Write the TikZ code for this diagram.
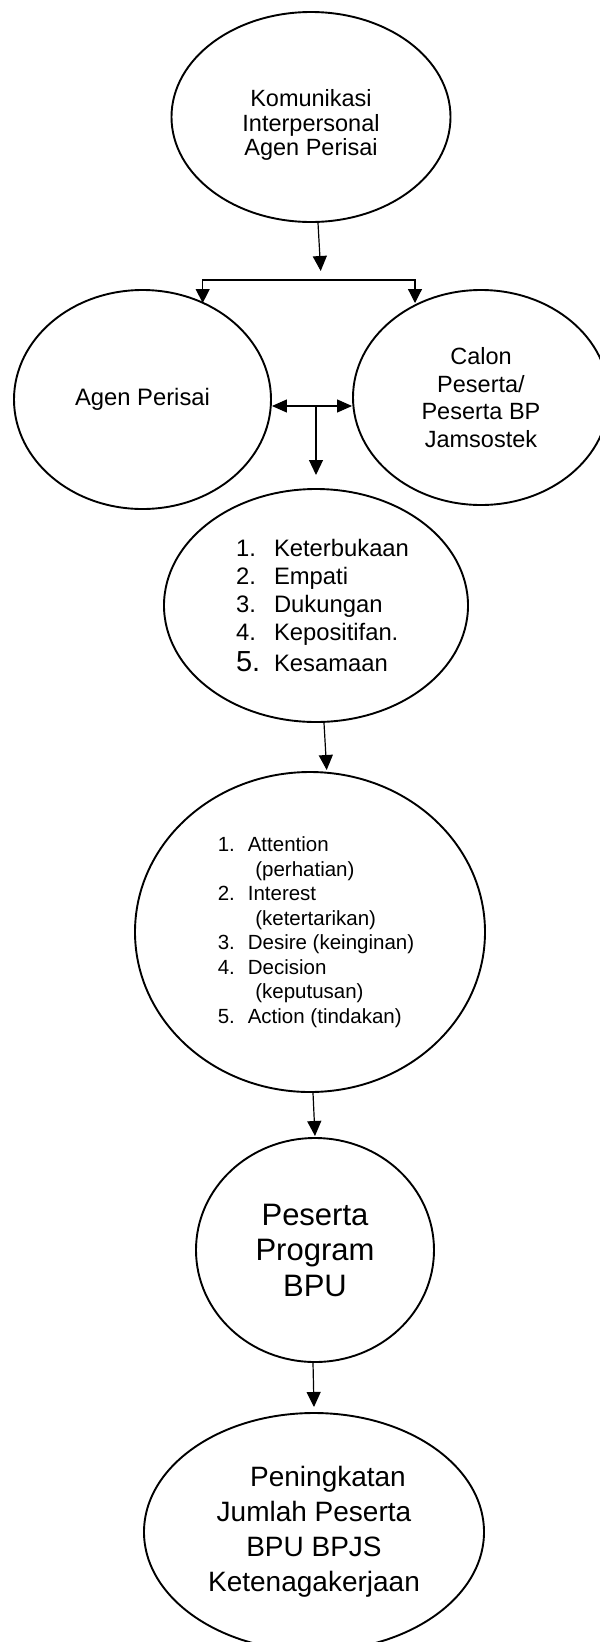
\documentclass[tikz,border=0pt]{standalone}
\usepackage{fontspec}
\setmainfont{Liberation Sans}
\usetikzlibrary{shapes.geometric,arrows.meta,calc}
\newcommand\myitemA[1]{\hspace*{13pt}\makebox[38pt][l]{#1}}
\newcommand\myitemB[1]{\hspace*{12pt}\makebox[30pt][l]{#1}}
\newcommand\mycontB{\hspace*{49.5pt}}
\begin{document}
\begin{tikzpicture}[x=1pt,y=-1pt,
  oval/.style={ellipse, draw, line width=1.9pt, inner sep=0pt, align=center},
  conn/.style={line width=1.2pt, -{Triangle[length=15pt,width=14pt]}},
  dbl/.style={line width=1.2pt, {Triangle[length=15pt,width=13pt]}-{Triangle[length=15pt,width=13pt]}},
  brk/.style={line width=1.2pt, {Triangle[length=14pt,width=14pt]}-{Triangle[length=14pt,width=14pt]}}
]
\useasboundingbox (0,0) rectangle (600,1642);
\fill[white] (0,0) rectangle (600,1642);
\clip (0,0) rectangle (600,1642);

% ellipses
\node[oval, minimum width=279pt, minimum height=210pt,
      font=\fontsize{23.5}{24.5}\selectfont] (e1) at (311,117)
  {\rule{0pt}{33pt}Komunikasi\\Interpersonal\\Agen Perisai};
\node[oval, minimum width=257pt, minimum height=219pt,
      font=\fontsize{23.8}{27}\selectfont] (agen) at (142.5,399.5)
  {Agen Perisai};
\node[oval, minimum width=256pt, minimum height=215pt,
      font=\fontsize{23.5}{27.7}\selectfont] (calon) at (481,397.5)
  {Calon\\Peserta/\\Peserta BP\\Jamsostek};
\node[oval, minimum width=304pt, minimum height=233pt, align=left,
      font=\fontsize{23.8}{28}\selectfont] (e3) at (316,605.5)
  {\myitemA{1.}Keterbukaan\\
   \myitemA{2.}Empati\\
   \myitemA{3.}Dukungan\\
   \myitemA{4.}Kepositifan.\\[2.3pt]
   \myitemA{\fontsize{29}{29}\selectfont 5.}Kesamaan};
\node[oval, minimum width=350pt, minimum height=320pt, align=left,
      font=\fontsize{20.5}{24.5}\selectfont] (e4) at (310,932)
  {\myitemB{1.}Attention\\
   \mycontB(perhatian)\\
   \myitemB{2.}Interest\\
   \mycontB(ketertarikan)\\
   \myitemB{3.}Desire (keinginan)\\
   \myitemB{4.}Decision\\
   \mycontB(keputusan)\\
   \myitemB{5.}Action (tindakan)};
\node[oval, minimum width=238pt, minimum height=224pt,
      font=\fontsize{31}{35.5}\selectfont] (e5) at (315,1250)
  {Peserta\\Program\\BPU};
\node[oval, minimum width=340pt, minimum height=238pt,
      font=\fontsize{28}{35}\selectfont] (e6) at (314,1532)
  {\hspace*{28pt}Peningkatan\\Jumlah Peserta\\BPU BPJS\\Ketenagakerjaan};

% connectors
\coordinate (t1) at (320.7,271);
\draw[conn] ([xshift=7pt]e1.south) -- (t1);

\coordinate (bl) at (202.7,280);
\coordinate (br) at (415,280);
\coordinate (blt) at (202.7,303);
\coordinate (brt) at (415,303);
\draw[brk] (blt) -- (bl) -- (br) -- (brt);

\coordinate (m) at (316,406);
\draw[dbl] (agen.east |- m) -- (calon.west |- m);
\coordinate (mt) at (316,475);
\draw[conn] (m) -- (mt);

\coordinate (t3) at (326.7,770);
\draw[conn] ([xshift=8pt]e3.south) -- (t3);

\coordinate (t4) at (315,1136);
\draw[conn] ([xshift=3pt]e4.south) -- (t4);

\coordinate (t5) at (314,1407);
\draw[conn] ([xshift=-2pt]e5.south) -- (t5);
\end{tikzpicture}
\end{document}
